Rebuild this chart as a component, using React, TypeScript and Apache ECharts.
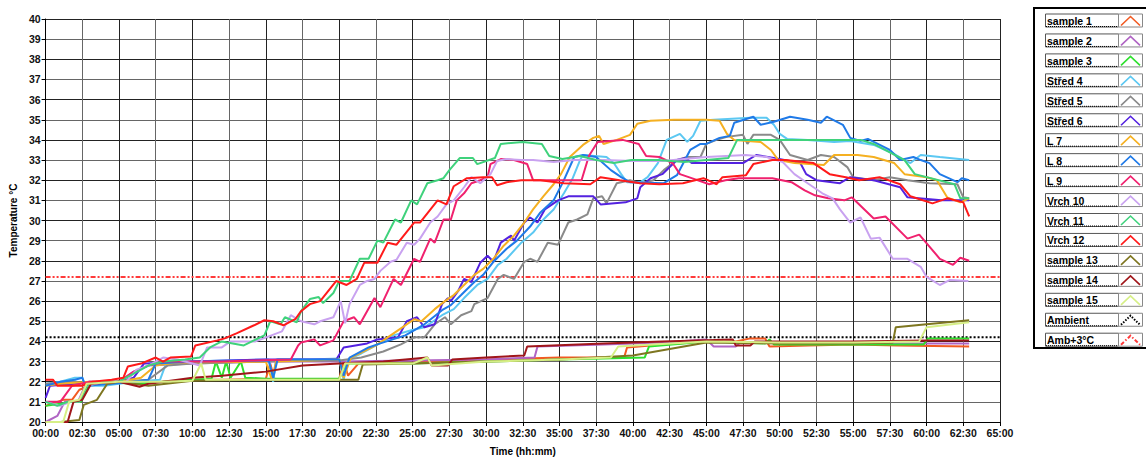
import React, { useEffect, useRef } from "react";
import * as echarts from "echarts";

const seriesNames = [
  "sample 1", "sample 2", "sample 3", "Střed 4", "Střed 5", "Střed 6", "L 7", "L 8", "L 9",
  "Vrch 10", "Vrch 11", "Vrch 12", "sample 13", "sample 14", "sample 15",
];
const seriesColors = [
  "#f25a22", "#b064c4", "#2ee02e", "#5cc8f2", "#8a8a8a", "#5422e0", "#f5b021", "#1f7ae8", "#f0216e",
  "#c9a2f0", "#3fd27c", "#ff1a1a", "#7e7620", "#a0161a", "#d6ef86",
];
const refNames = ["Ambient", "Amb+3°C"];
const refColors = ["#000000", "#ff3a3a"];
const ambientValue = 24.2;
const ambPlus3Value = 27.2;

const sample1 = [[0,20.8],[1.2,21.1],[1.8,21.1],[2.3,21.6],[3,21.8],[5,22.0],[6,21.9],[8,22.0],[10,22.1],[12,22.1],[15,22.15],[15.3,22.9],[15.6,22.1],[20,22.15],[20.3,23.0],[20.6,22.3],[21.3,22.9],[25,22.95],[30,23.1],[35,23.2],[39.4,23.2],[39.6,23.7],[42,23.85],[45,24.0],[47,24.0],[48,24.15],[49,24.15],[49.3,23.75],[52,23.8],[55,23.85],[58,23.8],[62.9,23.75]];
const sample2 = [[0,20.0],[0.8,20.3],[1.3,21.0],[2.2,21.0],[2.7,21.8],[4,22.0],[5,22.0],[6,22.5],[7,22.8],[10,22.9],[15,23.0],[20,23.0],[25,23.05],[30,23.1],[33.3,23.2],[33.5,23.75],[38,23.85],[42,23.95],[45,24.1],[45.5,23.75],[47,23.75],[47.3,23.95],[52,23.95],[58,23.9],[62.9,23.9]];
const sample3 = [[0,20.8],[1,20.9],[1.8,21.0],[2.4,21.0],[3,21.9],[4,22.0],[6,21.9],[8,22.0],[10,22.1],[11.3,22.15],[11.6,23.0],[12.0,22.2],[12.3,23.0],[12.6,22.2],[13.3,23.0],[13.6,22.2],[15,22.15],[20,22.15],[20.5,22.9],[25,22.9],[30,23.0],[35,23.1],[40.8,23.2],[41.1,23.75],[45,24.0],[49,23.9],[49.3,24.1],[49.6,23.85],[55,23.85],[59.8,23.85],[60.1,24.15],[62.9,24.15]];
const stred4 = [[0,21.9],[1,22.0],[2,22.2],[2.5,22.2],[2.7,21.8],[4,21.8],[5,21.9],[6,22.0],[7.8,22.1],[8.2,22.9],[10,23.0],[12,23.05],[15.2,23.1],[15.5,22.0],[15.7,23.1],[18,23.1],[20,23.15],[20.3,22.1],[20.6,23.1],[21.5,23.4],[22.5,23.8],[23.7,24.3],[24.9,24.55],[25.8,24.7],[27.0,25.3],[27.8,25.6],[28.5,26.15],[29.4,26.8],[30.1,27.1],[30.8,27.8],[31.4,28.1],[32.4,28.9],[33.2,29.4],[33.9,30.05],[34.6,30.55],[35.3,31.35],[35.9,32.1],[36.4,33.0],[36.6,33.25],[38.2,33.15],[38.7,32.85],[39.2,32.3],[39.6,31.9],[40.5,31.9],[41.0,32.15],[41.7,32.85],[42.3,34.0],[43.2,34.3],[43.7,33.9],[44.1,34.2],[44.6,34.95],[45.5,35.0],[48.0,35.1],[49.1,35.1],[49.6,34.75],[50.0,34.3],[50.5,34.05],[51.9,34.0],[53.7,33.9],[54.8,33.95],[56.4,33.75],[57.8,33.3],[58.5,33.0],[58.9,32.85],[59.6,33.25],[60.9,33.15],[62.9,33.0]];
const stred5 = [[0,21.9],[2,22.0],[3,21.9],[5,22.0],[7,22.1],[8.3,22.8],[10,22.9],[15,23.0],[20,23.05],[21.5,23.2],[23,23.5],[24.2,23.85],[25.1,24.2],[25.8,24.2],[26.5,24.85],[27.2,25.2],[27.6,24.85],[28.3,25.3],[29.0,25.5],[29.2,25.85],[30.1,26.15],[30.8,27.1],[31.2,27.3],[31.9,27.1],[32.6,27.95],[33.0,28.1],[33.5,27.95],[34.2,28.9],[34.9,28.8],[35.6,29.9],[36.2,30.05],[36.9,30.3],[37.3,31.1],[37.9,31.2],[38.2,30.85],[38.9,31.85],[39.8,32.0],[40.5,31.85],[41.4,32.0],[42.1,32.5],[43.0,33.0],[43.7,33.15],[44.6,33.15],[45.0,33.8],[45.7,34.0],[46.4,34.15],[47.5,34.25],[47.8,33.8],[48.2,34.25],[49.4,34.25],[50.0,34.0],[50.7,33.25],[51.9,33.0],[52.8,33.25],[53.7,33.15],[54.6,32.65],[55.0,32.15],[56.4,32.0],[57.5,32.15],[58.7,32.0],[60.2,31.85],[62.1,31.8],[62.5,31.15],[62.9,31.1]];
const stred6 = [[0,21.2],[0.3,21.8],[2,21.9],[3,22.0],[5,22.0],[6,22.2],[6.7,22.9],[10,23.0],[15,23.1],[18,23.1],[19.8,23.1],[20.3,23.7],[21.9,23.9],[22.6,24.1],[24.0,24.2],[24.6,25.0],[25.3,25.2],[25.8,24.7],[26.5,24.85],[27.0,25.85],[27.4,26.15],[27.6,26.0],[28.1,26.5],[28.5,27.1],[29.0,26.95],[29.6,27.9],[30.1,28.25],[30.5,27.95],[31.0,28.9],[31.7,29.25],[31.9,29.0],[32.6,29.9],[33.0,30.15],[33.5,29.9],[34.0,30.55],[34.9,31.0],[35.6,31.2],[37.3,31.2],[37.8,30.8],[39.5,30.9],[40.3,31.1],[40.5,31.65],[41.2,32.1],[42.0,32.3],[43.0,33.0],[43.6,33.1],[44,32.85],[47.5,32.85],[48.4,33.25],[49.6,33.1],[51.4,32.85],[51.8,32.3],[52.5,32.0],[54.1,31.85],[54.8,32.15],[56.4,32.0],[58.2,31.65],[58.7,31.15],[61.0,31.0],[62.9,31.0]];
const l7 = [[0,21.8],[1,21.9],[3,22.0],[5,22.0],[6.5,22.2],[7.5,22.8],[9,22.95],[15,23.0],[15.4,22.1],[15.7,23.0],[20,23.1],[20.3,22.2],[20.8,23.2],[22.5,23.8],[24.0,24.55],[25.1,25.1],[25.6,25.0],[26.5,25.6],[27.2,26.0],[27.8,26.3],[28.5,26.8],[29.2,27.3],[29.8,27.6],[30.5,28.1],[31.2,28.75],[31.9,29.25],[32.6,29.9],[33.2,30.55],[33.9,31.2],[34.6,31.8],[35.1,32.3],[35.7,33.15],[36.6,33.75],[37.3,34.1],[37.7,34.2],[38.0,33.8],[38.9,34.0],[39.8,34.25],[40.3,34.8],[41.2,34.95],[42.8,35.0],[45.0,35.0],[45.9,34.95],[46.4,34.3],[46.9,34.0],[48.7,33.9],[49.4,33.5],[49.9,33.0],[51.0,32.85],[53.0,32.75],[53.7,33.25],[55.3,33.25],[56.4,33.15],[57.8,32.85],[58.5,32.3],[60.0,32.15],[60.7,32.0],[61.4,31.15],[62.3,30.9],[62.9,31.1]];
const l8 = [[0,21.8],[1,22.0],[2,22.1],[2.5,22.2],[2.7,21.8],[4.5,21.9],[6,22.0],[7,22.1],[7.5,22.9],[10,23.0],[15.2,23.05],[15.5,22.2],[15.8,23.1],[20,23.1],[20.3,22.3],[20.7,23.2],[22,23.7],[22.8,23.9],[24.5,24.3],[25.8,24.85],[27.0,25.55],[27.6,25.8],[28.3,26.3],[29.2,26.95],[29.8,27.3],[30.5,27.95],[31.4,28.6],[32.1,29.0],[33.0,29.7],[33.7,30.4],[34.6,31.0],[35.3,32.0],[36.0,33.15],[36.6,33.25],[37.5,33.15],[38.5,32.5],[39.2,32.15],[39.8,31.9],[42.1,31.85],[43.0,32.25],[43.9,33.5],[44.6,33.8],[45.0,33.8],[45.9,34.1],[46.6,34.2],[46.9,34.85],[48.2,35.15],[48.7,34.75],[49.6,34.9],[50.7,35.15],[51.9,35.0],[52.8,34.85],[53.2,35.15],[54.3,34.75],[54.8,34.1],[55.5,33.95],[56.0,34.05],[56.4,33.9],[57.5,33.5],[58.2,33.0],[59.1,33.15],[59.6,33.0],[60.2,32.85],[60.9,32.3],[62.1,31.9],[62.4,32.1],[62.9,32.0]];
const l9 = [[0,21.0],[1,21.0],[1.8,21.8],[3,22.0],[5,22.0],[6,22.5],[7,22.8],[8,23.0],[10,23.0],[12,23.0],[14,23.05],[16.7,23.1],[17.2,23.8],[17.4,23.95],[18.3,24.1],[18.7,23.8],[19.6,24.05],[20.3,25.0],[21.0,25.2],[21.4,24.85],[22.4,26.15],[22.8,25.7],[23.7,27.1],[24.2,26.8],[25.1,28.1],[25.5,27.95],[26.2,29.1],[26.5,28.9],[27.1,30.05],[27.6,30.05],[28.0,31.0],[28.5,31.35],[29.0,31.85],[29.6,32.0],[30.1,32.15],[30.3,32.8],[31.0,33.05],[31.9,33.0],[32.8,32.8],[33.2,32.0],[36.5,32.0],[37.0,33.2],[37.6,33.9],[39.3,34.0],[40.4,33.8],[40.9,33.2],[41.8,33.15],[42.7,32.85],[43.2,32.3],[43.8,32.15],[45.2,31.8],[46.3,32.0],[47.2,32.1],[49.5,32.1],[50.8,31.9],[51.7,31.5],[52.4,31.25],[53.3,31.1],[54.4,31.0],[54.9,31.15],[56.4,30.1],[57.2,30.2],[58.7,29.1],[59.5,29.3],[60.9,28.1],[61.8,27.8],[62.3,28.15],[62.9,28.0]];
const vrch10 = [[0,21.0],[1,20.8],[1.7,21.0],[2.3,21.0],[2.8,21.8],[4,22.0],[5.5,22.0],[6.2,22.6],[7,22.8],[8,23.2],[9,23.1],[10.5,22.8],[11,23.7],[12,23.7],[12.6,24.0],[14.3,24.0],[16.1,24.5],[16.7,25.3],[17.4,25.0],[18.3,24.85],[18.7,25.0],[19.6,25.2],[20.1,26.0],[20.4,24.9],[20.7,25.85],[21.4,26.8],[21.9,27.0],[22.4,27.1],[22.8,27.5],[23.5,27.95],[23.9,28.05],[24.6,28.9],[25.1,28.8],[25.5,29.1],[26.2,29.9],[26.7,30.2],[27.3,30.8],[27.8,31.0],[28.5,31.65],[29.0,32.15],[29.6,31.85],[30.3,32.3],[30.75,32.95],[31.4,33.05],[32.4,33.0],[33.2,33.0],[34.6,32.9],[36,33.0],[38,33.0],[40,32.95],[42,32.95],[45.0,33.15],[47.7,33.25],[49.1,33.15],[50.2,32.9],[51.0,32.3],[52.0,31.8],[52.9,31.35],[53.6,31.1],[54.1,30.55],[54.8,29.9],[55.5,30.15],[56.2,29.1],[56.8,29.15],[57.7,28.1],[58.7,28.1],[59.6,27.7],[60.0,27.2],[60.9,26.8],[61.6,27.05],[62.85,27.0]];
const vrch11 = [[0,21.0],[0.8,20.8],[1.5,21.0],[2.3,21.0],[2.8,21.8],[3.5,22.0],[5,22.0],[6,22.4],[7,22.8],[8,23.0],[9.5,23.1],[10.5,23.2],[11.2,23.7],[12,24.0],[13.5,23.8],[14.9,24.3],[15.3,25.0],[16,24.85],[16.3,25.2],[17.1,24.95],[17.4,25.5],[18.0,26.1],[18.6,26.2],[18.9,25.9],[19.6,26.4],[20,27.0],[20.7,27.0],[21.4,28.1],[22,28.1],[22.6,29.0],[23,28.9],[23.8,30.05],[24.2,29.9],[24.9,31.0],[25.3,30.8],[26.0,31.85],[26.7,32.0],[27.1,32.1],[27.5,32.5],[28.2,33.1],[29.1,33.1],[29.4,32.8],[30.6,33.1],[31.0,33.8],[32.5,33.9],[33.8,33.8],[34.3,33.2],[35.2,33.05],[36.4,33.2],[37.5,33.0],[38.7,32.85],[39.9,33.0],[41.7,33.0],[43.5,32.9],[45.0,33.0],[46.5,33.1],[47.1,34.0],[50,34.0],[52.5,34.0],[55.5,34.0],[56.4,33.8],[58.5,33.0],[59.2,32.3],[61.9,31.8],[62.3,31.1],[62.9,31.1]];
const vrch12 = [[0,22.1],[0.5,22.1],[0.8,21.8],[2.5,21.8],[3.2,22.0],[4.5,22.1],[5.3,22.2],[5.6,22.75],[6.5,22.9],[7.5,23.2],[8,23.0],[8.5,23.2],[9.9,23.25],[10.2,23.8],[11.7,24.05],[12.2,24.15],[13,24.4],[14.2,24.8],[14.9,25.05],[15.5,25.0],[16.2,24.8],[17.0,25.1],[17.4,25.5],[18.0,25.85],[18.7,26.0],[19.8,27.0],[20.5,26.8],[21.2,27.1],[21.7,27.9],[22.6,27.9],[23.3,28.9],[23.9,28.8],[25.1,29.9],[25.5,29.9],[26.7,31.0],[27.3,30.8],[27.8,31.7],[28.7,32.1],[29.8,32.15],[30.4,32.15],[30.75,31.75],[31.4,31.9],[32.4,32.0],[33.7,32.0],[35.3,31.85],[37.1,31.8],[37.8,32.15],[39.1,32.0],[40.5,31.85],[41.8,31.8],[43.4,31.85],[44.8,32.1],[45.7,31.8],[46.1,32.15],[47.7,32.25],[48.2,32.8],[49.5,33.0],[50.4,33.0],[52.3,32.85],[53.4,32.3],[54.5,32.15],[55.4,32.0],[56.8,32.15],[58.2,31.8],[58.9,31.2],[60.4,30.85],[61.4,31.1],[62.5,30.9],[62.9,30.2]];
const sample13 = [[0,20.0],[1,20.0],[2.3,20.1],[2.6,20.85],[3.5,21.1],[4.2,21.9],[5,22.0],[7,21.8],[10,22.05],[15,22.1],[20,22.1],[21.3,22.1],[21.6,22.85],[25,22.9],[30,23.0],[35,23.1],[40,23.3],[45,23.95],[50,23.9],[55,23.9],[57.7,23.95],[57.9,24.7],[60,24.85],[62.9,25.05]];
const sample14 = [[0,20.0],[1.5,20.0],[1.9,21.0],[2.5,21.1],[3.1,21.9],[5,22.0],[6.4,21.75],[7,21.9],[10,22.2],[12,22.3],[15,22.5],[17.5,22.8],[20,22.9],[23,23.0],[26,23.2],[26.3,22.8],[27.4,22.8],[27.7,23.1],[30,23.2],[32.6,23.3],[32.8,23.75],[38,23.9],[42,24.0],[46.8,24.1],[47.0,23.8],[48,23.8],[48.3,24.0],[55,24.0],[60,24.05],[62.9,24.05]];
const sample15 = [[0,20.0],[1.2,20.0],[1.6,21.0],[2.3,21.1],[2.8,21.9],[5,22.0],[8,22.0],[10,22.05],[10.6,22.9],[10.9,22.1],[15,22.1],[20,22.1],[20.4,22.9],[25,22.9],[26,23.2],[26.3,22.8],[30,23.0],[35,23.1],[38.5,23.2],[39,23.75],[45,24.0],[50,23.95],[55,23.95],[59.5,24.0],[60,24.7],[62.9,24.95]];

const seriesData = [sample1, sample2, sample3, stred4, stred5, stred6, l7, l8, l9, vrch10, vrch11, vrch12, sample13, sample14, sample15];

const pad = (n: number) => (n < 10 ? "0" + n : "" + n);
const fmtTime = (v: number) => {
  const h = Math.floor(v + 1e-6);
  const m = Math.round((v - h) * 60);
  return pad(h) + ":" + pad(m);
};

export default function App() {
  const ref = useRef<HTMLDivElement>(null);
  useEffect(() => {
    if (!ref.current) return;
    const chart = echarts.init(ref.current, undefined, { renderer: "svg" });
    const font = "Liberation Sans";
    const series: any[] = seriesData.map((d, i) => ({
      name: seriesNames[i],
      type: "line",
      data: d,
      symbol: "none",
      lineStyle: { color: seriesColors[i], width: 2 },
      z: 3,
    }));
    series.push({
      name: refNames[0], type: "line", symbol: "none", z: 2,
      data: [[0, ambientValue], [65, ambientValue]],
      lineStyle: { color: refColors[0], width: 2, type: [2, 2] },
    });
    series.push({
      name: refNames[1], type: "line", symbol: "none", z: 2,
      data: [[0, ambPlus3Value], [65, ambPlus3Value]],
      lineStyle: { color: refColors[1], width: 2, type: [5, 2, 2, 2, 2, 2] },
    });

    const allNames = [...seriesNames, ...refNames];
    const allColors = [...seriesColors, ...refColors];
    const graphics: any[] = [
      { type: "rect", shape: { x: 1034, y: 8, width: 130, height: 340 }, style: { fill: "#fff", stroke: "#000", lineWidth: 2 }, z: 10 },
    ];
    allNames.forEach((n, i) => {
      const top = 13.5 + i * 19.95;
      graphics.push({ type: "rect", shape: { x: 1045.5, y: top + 0.5, width: 73, height: 13 }, style: { fill: "#fff", stroke: "#555", lineWidth: 1 }, z: 11 });
      graphics.push({ type: "line", shape: { x1: 1046, y1: top + 13, x2: 1118, y2: top + 13 }, style: { stroke: "#000", lineWidth: 1, lineDash: [1, 1] }, z: 12 });
      graphics.push({ type: "text", x: 1047, y: top + 7.5, style: { text: n, fill: "#000", font: `bold 10.5px "${font}"`, verticalAlign: "middle", textAlign: "left" }, z: 12 });
      graphics.push({ type: "rect", shape: { x: 1118.5, y: top + 0.5, width: 24, height: 13 }, style: { fill: "#fff", stroke: "#888", lineWidth: 1 }, z: 11 });
      const isRef = i >= seriesNames.length;
      graphics.push({
        type: "polyline",
        shape: { points: [[1121, top + 12], [1130.5, top + 3], [1140, top + 12]] },
        style: {
          stroke: allColors[i], lineWidth: isRef ? 2 : 1.6, fill: "none",
          lineDash: isRef ? (i === allNames.length - 1 ? [4, 2, 1.5, 2] : [1.5, 1.5]) : undefined,
        },
        z: 12,
      });
    });

    chart.setOption({
      animation: false,
      backgroundColor: "#fff",
      grid: { left: 45, right: 146, top: 19, bottom: 31, containLabel: false },
      xAxis: {
        type: "value", min: 0, max: 65, interval: 2.5,
        name: "Time (hh:mm)", nameLocation: "middle", nameGap: 24,
        nameTextStyle: { color: "#000", fontFamily: font, fontWeight: "bold", fontSize: 10 },
        axisLine: { show: true, lineStyle: { color: "#000", width: 1 } },
        axisTick: { show: true, length: 4, lineStyle: { color: "#000" } },
        axisLabel: { formatter: fmtTime, color: "#111", fontFamily: font, fontWeight: "bold", fontSize: 10.5, margin: 5 },
        splitLine: { show: true, lineStyle: { color: ["#222", "#666"], width: 1 } },
      },
      yAxis: {
        type: "value", min: 20, max: 40, interval: 1,
        name: "Temperature °C", nameLocation: "middle", nameGap: 20, nameRotate: 90,
        nameTextStyle: { color: "#000", fontFamily: font, fontWeight: "bold", fontSize: 10 },
        axisLine: { show: true, lineStyle: { color: "#000", width: 1 } },
        axisTick: { show: true, length: 4, lineStyle: { color: "#000" } },
        axisLabel: { color: "#111", fontFamily: font, fontWeight: "bold", fontSize: 10.5, margin: 5 },
        splitLine: { show: true, lineStyle: { color: ["#222", "#666"], width: 1 } },
      },
      graphic: graphics,
      series,
    });
    return () => chart.dispose();
  }, []);
  return <div ref={ref} style={{ position: "absolute", left: 0, top: 0, width: 1146, height: 461 }} />;
}
